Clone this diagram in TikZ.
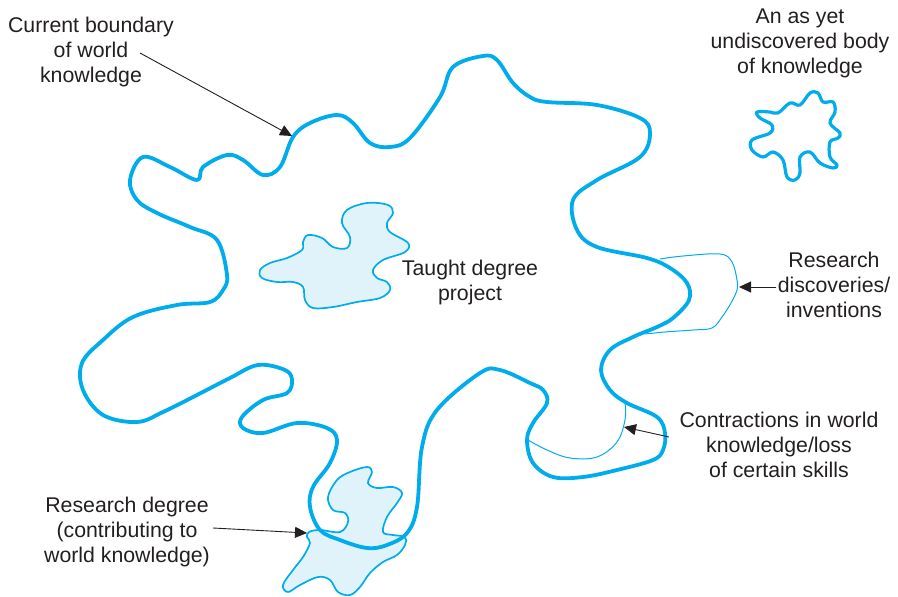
\documentclass[tikz,border=0pt]{standalone}
\usepackage{fontspec}
\setmainfont{Liberation Sans}
\usetikzlibrary{arrows.meta}
\definecolor{kcyan}{RGB}{0,172,236}
\definecolor{kfill}{RGB}{224,243,251}
\definecolor{ktext}{RGB}{35,31,32}
\tikzset{
  boundary/.style={draw=kcyan,line width=3.8pt,line join=round},
  smallblob/.style={draw=kcyan,fill=kfill,line width=1.7pt,line join=round},
  thinline/.style={draw=kcyan,line width=1pt},
  label/.style={text=ktext,align=center,font=\fontsize{21.3}{25}\selectfont,inner sep=0pt},
  pointer/.style={draw=ktext,line width=0.9pt,-{Triangle[length=12pt,width=11pt]}}
}
\begin{document}
\begin{tikzpicture}[x=1pt,y=-1pt]
\useasboundingbox (0,0) rectangle (898,597);
% small blobs (under the boundary)
\draw[smallblob] plot[smooth cycle,tension=0.6] coordinates {
(260,270)(270,263)(287,258)(302,250)(303,242)(308,235)(322,238)(333,247)(347,248)(350,237)
(342,223)(347,210)(367,203)(388,205)(393,213)(387,223)(390,232)(408,243)(405,252)(383,260)
(373,270)(377,278)(387,282)(390,290)(380,298)(357,302)(333,307)(313,308)(305,300)(303,287)
(293,282)(277,282)(262,278)};
\draw[smallblob] plot[smooth cycle,tension=0.6] coordinates {
(333,510)(328,497)(337,480)(350,472)(367,467)(372,472)(368,483)(377,488)(393,487)(402,493)
(397,503)(387,517)(383,532)(393,535)(405,537)(405,545)(397,555)(383,562)(370,573)(360,587)
(350,595)(338,592)(330,580)(318,577)(300,585)(288,592)(283,585)(293,570)(303,557)(310,543)
(307,537)(309,532)(320,530)(340,532)(348,522)(345,513)};
% thin lines
\draw[thinline] plot[smooth,tension=0.6] coordinates {
(660,259)(683,256)(720,254)(732,262)(737,280)(737,290)(731,303)(722,317)(712,328)(693,330)(665,332)(645,334)};
\draw[thinline] plot[smooth,tension=0.6] coordinates {
(625,403)(625,420)(617,442)(597,457)(570,458)(547,450)(528,440)};
% main boundary
\draw[boundary] plot[smooth cycle,tension=0.6] coordinates {
(130,180)(143,157)(170,167)(197,180)(203,167)(227,155)(243,160)(263,175)(280,167)(293,137)
(310,123)(337,115)(353,123)(370,143)(390,147)(410,138)(440,97)(453,67)(483,56)(497,60)
(513,83)(530,97)(547,102)(597,105)(640,118)(650,133)(640,157)(597,180)(573,200)(577,230)
(597,247)(647,258)(670,268)(687,283)(689,300)(673,318)(657,327)(633,337)(610,350)(601,370)
(610,390)(627,403)(657,417)(665,433)(663,450)(653,460)(617,470)(583,477)(553,477)(533,463)
(527,440)(533,423)(547,403)(543,390)(530,383)(500,370)(480,373)(437,410)(422,447)(417,507)
(407,533)(387,545)(367,548)(340,540)(320,530)(310,507)(313,487)(330,463)(337,440)(327,428)
(297,423)(263,433)(243,428)(242,417)(263,400)(287,393)(292,380)(285,370)(258,365)(230,378)
(197,395)(163,412)(137,422)(103,415)(83,390)(82,363)(103,340)(133,317)(177,305)(210,302)
(223,290)(227,275)(217,240)(190,227)(157,213)(137,200)};
% undiscovered body
\draw[draw=kcyan,line width=3.2pt,line join=round] plot[smooth cycle,tension=0.6] coordinates {
(757,112)(770,112)(778,113)(790,103)(800,105)(810,93)(818,93)(823,102)(833,102)(835,112)
(830,123)(840,133)(838,138)(830,142)(830,157)(837,165)(833,168)(820,163)(810,152)(800,157)
(800,173)(795,180)(787,177)(783,160)(773,152)(763,157)(752,150)(752,140)(770,133)(772,125)(760,118)};
% labels
\node[label] (cb) at (91,52) {Current boundary\\of world\\knowledge};
\node[label] (an) at (800,43) {An as yet\\undiscovered body\\of knowledge};
\node[label] (rd) at (834,285) {Research\\discoveries/\\inventions};
\node[label] (ct) at (779,445) {Contractions in world\\knowledge/loss\\of certain skills};
\node[label] (tdp) at (470,282) {Taught degree\\project};
\node[label] (rdeg) at (127,532) {Research degree\\(contributing to\\world knowledge)};
% arrow ends
\coordinate (cbA) at (140,53);
\coordinate (cbT) at (292,136);
\coordinate (rdA) at (776,287);
\coordinate (rdT) at (739,287);
\coordinate (ctA) at (669,437);
\coordinate (ctT) at (624,427);
\coordinate (rgA) at (213,528);
\coordinate (rgT) at (307,533);
\draw[pointer] (cbA) -- (cbT);
\draw[pointer] (rdA) -- (rdT);
\draw[pointer] (ctA) -- (ctT);
\draw[pointer] (rgA) -- (rgT);
\end{tikzpicture}
\end{document}
